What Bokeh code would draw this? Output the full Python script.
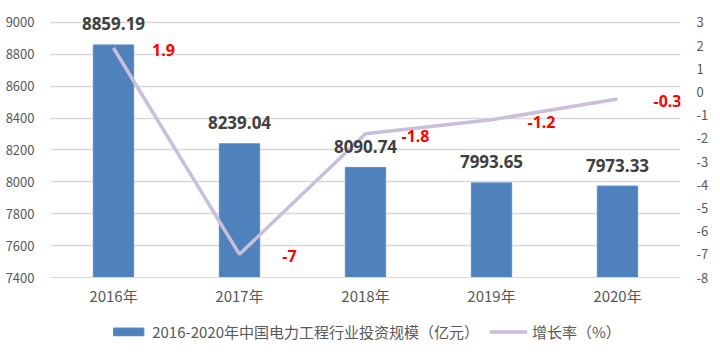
from bokeh.plotting import figure
from bokeh.layouts import column
from bokeh.models import (ColumnDataSource, Range1d, LinearAxis, FixedTicker, Legend, LegendItem, FactorRange)
from bokeh.core.properties import value
from bokeh.embed import file_html
from bokeh.resources import INLINE

years = ["2016年", "2017年", "2018年", "2019年", "2020年"]
invest = [8859.19, 8239.04, 8090.74, 7993.65, 7973.33]
growth = [1.9, -7, -1.8, -1.2, -0.3]
invest_labels = ["8859.19", "8239.04", "8090.74", "7993.65", "7973.33"]
growth_labels = ["1.9", "-7", "-1.8", "-1.2", "-0.3"]
left_ticks = [7400, 7600, 7800, 8000, 8200, 8400, 8600, 8800, 9000]
right_ticks = [3, 2, 1, 0, -1, -2, -3, -4, -5, -6, -7, -8]
series_names = ["2016-2020年中国电力工程行业投资规模（亿元）", "增长率（%）"]

BAR_C = "#4F81BD"
LINE_C = "#C9BEDB"
src = ColumnDataSource(dict(x=years, inv=invest, g=growth, il=invest_labels, gl=growth_labels))

CJK = "Noto Sans CJK SC"
p = figure(frame_width=630, frame_height=277, x_range=FactorRange(*years, range_padding=0),
           y_range=Range1d(7400, 9138), output_backend="svg", toolbar_location=None,
           min_border_left=50, min_border_right=32, min_border_top=0, min_border_bottom=38)
p.outline_line_color = None
p.background_fill_color = "white"
p.extra_y_ranges = {"g": Range1d(-8, 3.949)}

bars = p.vbar(x="x", top="inv", bottom=7400, width=0.32, source=src,
              fill_color=BAR_C, line_color="#5B8CC6", line_width=1)
line = p.line(x="x", y="g", source=src, y_range_name="g", line_color=LINE_C, line_width=3.5)

p.text(x="x", y="inv", text="il", source=src, y_offset=-21, text_align="center",
       text_baseline="middle", text_font=value("Open Sans"), text_font_style="bold",
       text_font_size="17px", text_color="#404040")
p.text(x="x", y="g", text="gl", source=src, y_range_name="g", x_offset=50, y_offset=2,
       text_align="center", text_baseline="middle", text_font=value("Open Sans"),
       text_font_style="bold", text_font_size="16px", text_color="#FF0000")

p.yaxis.ticker = FixedTicker(ticks=left_ticks)
for ax in [p.yaxis[0]]:
    ax.axis_line_color = None
    ax.major_tick_line_color = None
    ax.minor_tick_line_color = None
    ax.major_label_text_font = CJK
    ax.major_label_text_font_size = "13px"
    ax.major_label_text_color = "#595959"
    ax.major_label_standoff = 10

ra = LinearAxis(y_range_name="g", ticker=FixedTicker(ticks=right_ticks))
ra.major_label_overrides = {t: str(t) for t in right_ticks}
ra.axis_line_color = None
ra.major_tick_line_color = None
ra.minor_tick_line_color = None
ra.major_label_text_font = CJK
ra.major_label_text_font_size = "13px"
ra.major_label_text_color = "#595959"
ra.major_label_standoff = 10
p.add_layout(ra, "right")

p.xaxis.axis_line_color = "#D9D9D9"
p.xaxis.major_tick_line_color = None
p.xaxis.minor_tick_line_color = None
p.xaxis.major_label_text_font = CJK
p.xaxis.major_label_text_font_size = "15px"
p.xaxis.major_label_text_color = "#595959"
p.xaxis.major_label_standoff = 1

p.xgrid.grid_line_color = None
p.ygrid.grid_line_color = "#D9D9D9"
p.ygrid.grid_line_width = 1.5

# legend strip underneath (separate small figure holding legend-only renderers)
nan = float("nan")
lg = figure(width=712, height=32, x_range=Range1d(0, 1), y_range=Range1d(0, 1),
            output_backend="svg", toolbar_location=None,
            min_border_left=0, min_border_right=0, min_border_top=0, min_border_bottom=0)
lg.axis.visible = False
lg.grid.visible = False
lg.outline_line_color = None
lb = lg.vbar(x=[nan], top=[nan], width=0.1, fill_color=BAR_C, line_color="#5B8CC6")
ll = lg.line(x=[nan, nan], y=[nan, nan], line_color=LINE_C, line_width=3.5)
legend = Legend(items=[LegendItem(label=series_names[0], renderers=[lb]),
                       LegendItem(label=series_names[1], renderers=[ll])],
                orientation="horizontal", location="center",
                label_text_font=CJK, label_text_font_size="15px", label_text_color="#595959",
                glyph_width=38, glyph_height=10, spacing=10, border_line_color=None,
                background_fill_alpha=0, margin=0, padding=4)
lg.add_layout(legend, "center")

open("out.html", "w").write(file_html(column(p, lg, spacing=0), INLINE))
